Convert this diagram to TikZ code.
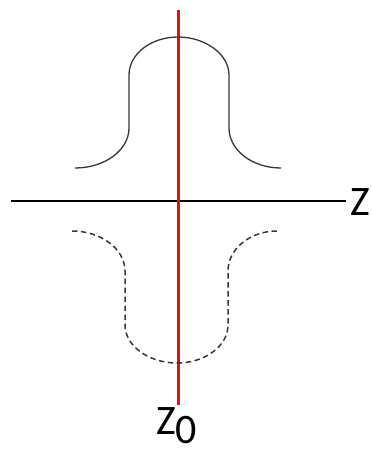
\documentclass[tikz,border=0pt]{standalone}
\usepackage{fontspec}
\setmainfont{Carlito}
\begin{document}
\begin{tikzpicture}[x=1pt,y=-1pt,
  axis/.style={line width=1.6pt,black},
  redline/.style={line width=3pt,color={rgb,255:red,225;green,20;blue,10}},
  bell/.style={line width=1.3pt,color={rgb,255:red,55;green,55;blue,55}},
  dashbell/.style={bell,line width=1.5pt,dash pattern=on 5.5pt off 3.5pt},
  lbl/.style={font=\fontsize{42}{42}\selectfont,inner sep=0pt}]
\useasboundingbox (0,0) rectangle (372,455);
\fill[white] (0,0) rectangle (372,455);
% labels
\node[lbl,anchor=base west] (zlab) at (350,215) {Z};
\node[lbl,anchor=base west] (z0lab) at (156,434) {Z\raisebox{-9pt}{0}};
% axis
\coordinate (a0) at (11,201);
\draw[axis] (a0) -- ([xshift=-4pt]zlab.west |- a0);
% red line
\coordinate (r0) at (178,10);
\coordinate (r1) at (178,405);
\draw[redline] (r0) -- (r1);
% solid bell
\draw[bell] (75,168) .. controls (105,168) and (129,150) .. (129,128)
  -- (129,75) .. controls (129,54) and (151,37) .. (178,37)
  .. controls (205,37) and (229,54) .. (229,75)
  -- (229,128) .. controls (229,150) and (252,168) .. (281,168);
% dashed inverted bell
\draw[dashbell] (72,231) .. controls (101,231) and (125,249) .. (125,271)
  -- (125,325) .. controls (125,346) and (149,363) .. (177,363)
  .. controls (205,363) and (228,346) .. (228,325)
  -- (228,271) .. controls (228,249) and (250,231) .. (277,231);
\end{tikzpicture}
\end{document}
